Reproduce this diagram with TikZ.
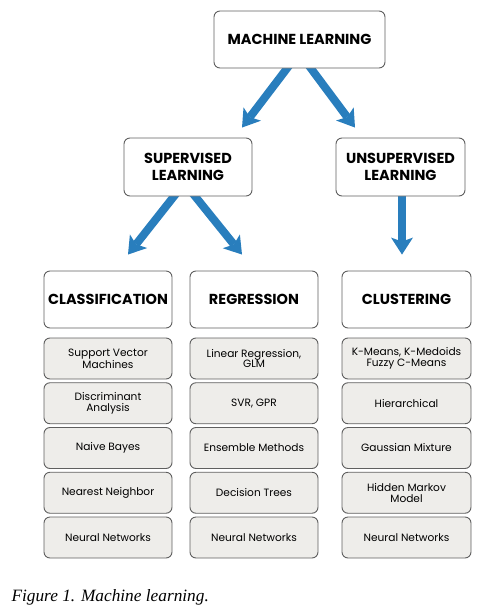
\documentclass[tikz,border=0pt]{standalone}
\usepackage{fontspec}
\setmainfont{Liberation Serif}
\newfontfamily\boxfont{Poppins}
\usetikzlibrary{arrows.meta,backgrounds}

\definecolor{mlblue}{RGB}{41,126,189}
\definecolor{boxgray}{RGB}{238,237,234}
\definecolor{edgegray}{RGB}{95,95,95}

\tikzset{
	head/.style={draw=edgegray, line width=0.9pt, rounded corners=6pt, fill=white,
		minimum width=128pt, minimum height=57pt, align=center, inner sep=0pt,
		font=\boxfont\bfseries\fontsize{14.5}{17}\selectfont},
	item/.style={draw=edgegray, line width=0.9pt, rounded corners=6pt, fill=boxgray,
		minimum width=128pt, minimum height=41pt, align=center, inner sep=0pt,
		font=\boxfont\fontsize{10.6}{10.8}\selectfont},
	flow/.style={draw=mlblue, line width=8pt,
		-{Stealth[length=17pt,width=22pt,inset=4pt,line width=0pt]}},
}

\begin{document}
\begin{tikzpicture}[x=1pt,y=-1pt]
		\useasboundingbox (0,0) rectangle (494,614);

		% top levels
		\node[head, minimum width=171pt] (ml) at (299.5,39.5) {MACHINE LEARNING};
		\node[head, minimum height=58pt] (sup) at (188,167) {SUPERVISED\\LEARNING};
		\node[head, minimum height=58pt, minimum width=129pt] (unsup) at (400.5,167) {UNSUPERVISED\\LEARNING};

		\node[head] (cls) at (108,299.5) {CLASSIFICATION};
		\node[head] (reg) at (254,299.5) {REGRESSION};
		\node[head, minimum width=129pt] (clu) at (406.5,299.5) {CLUSTERING};

		% method boxes
		\foreach \t [count=\i] in {{Support Vector\\Machines},{Discriminant\\Analysis},
			Naive Bayes,Nearest Neighbor,Neural Networks}{
			\node[item] (cls\i) at (108,{358.5+44.75*(\i-1)}) {\t};
		}
		\foreach \t [count=\i] in {{Linear Regression,\\GLM},{SVR, GPR},
			Ensemble Methods,Decision Trees,Neural Networks}{
			\node[item] (reg\i) at (254,{358.5+44.75*(\i-1)}) {\t};
		}
		\foreach \t [count=\i] in {{K-Means, K-Medoids\\Fuzzy C-Means},Hierarchical,
			Gaussian Mixture,{Hidden Markov\\Model},Neural Networks}{
			\node[item, minimum width=129pt] (clu\i) at (406.5,{358.5+44.75*(\i-1)}) {\t};
		}

		% arrows
		\begin{scope}[on background layer]
			\draw[flow] ([xshift=-9.5pt,yshift=4pt]ml.south) -- ([xshift=54pt,yshift=10pt]sup.north);
			\draw[flow] ([xshift=8.5pt,yshift=4pt]ml.south) -- ([xshift=-45.5pt,yshift=10pt]unsup.north);
			\draw[flow] ([xshift=-11pt,yshift=4pt]sup.south) -- ([xshift=20pt,yshift=16pt]cls.north);
			\draw[flow] ([xshift=4pt,yshift=4pt]sup.south) -- ([xshift=-12pt,yshift=16pt]reg.north);
			\draw[flow] ([xshift=1.5pt,yshift=4pt]unsup.south) -- ([xshift=-4.5pt,yshift=16pt]clu.north);
		\end{scope}

		\node[anchor=west, font=\itshape\fontsize{17.3}{20}\selectfont] (cap) at (8,597) {Figure 1. Machine learning.};
	\end{tikzpicture}
\end{document}
